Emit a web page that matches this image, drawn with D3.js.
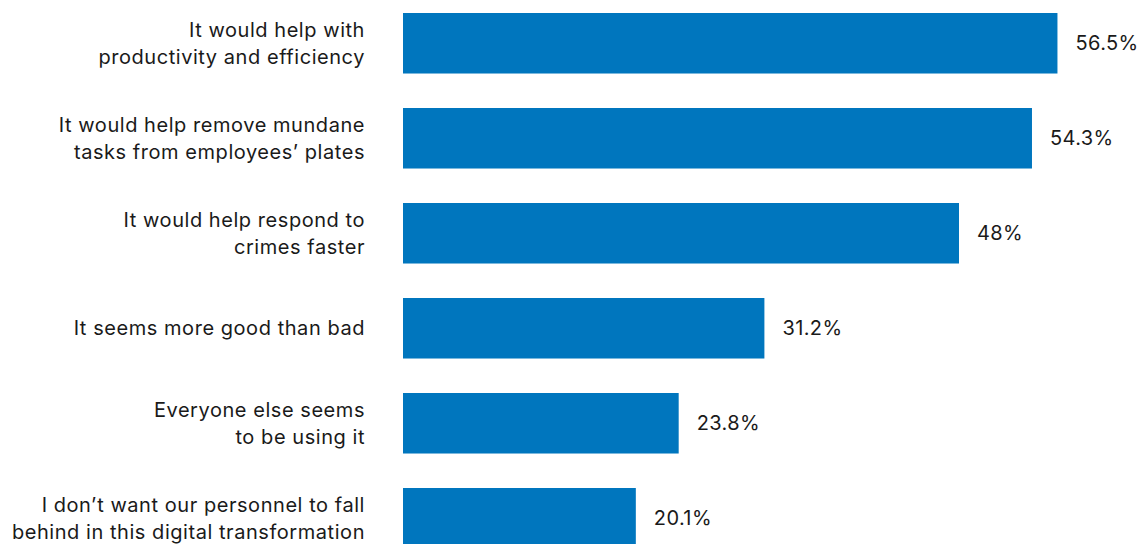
<!DOCTYPE html>
<html>
<head>
<meta charset="utf-8">
<script src="https://cdn.jsdelivr.net/npm/d3@7"></script>
<style>
  html, body { margin: 0; padding: 0; background: #fff; }
  svg { display: block; }
  text { font-family: Inter, "Noto Sans", sans-serif; fill: #1a1a1a; }
</style>
</head>
<body>
<svg id="chart" width="1146" height="544"></svg>
<script>
const categories = [
  ["It would help with", "productivity and efficiency"],
  ["It would help remove mundane", "tasks from employees\u2019 plates"],
  ["It would help respond to", "crimes faster"],
  ["It seems more good than bad"],
  ["Everyone else seems", "to be using it"],
  ["I don\u2019t want our personnel to fall", "behind in this digital transformation"]
];
const values = [56.5, 54.3, 48, 31.2, 23.8, 20.1];
const valueLabels = ["56.5%", "54.3%", "48%", "31.2%", "23.8%", "20.1%"];

const W = 1146, H = 544;
const svg = d3.select("#chart");
const barLeft = 403;
const x = d3.scaleLinear().domain([0, 60]).range([barLeft, barLeft + 695]);
const idx = d3.range(values.length);
const y = d3.scaleBand().domain(idx).range([-4.24, -4.24 + 6 * 95])
  .paddingInner(0.363).paddingOuter(0.1815);

const g = svg.append("g");

g.selectAll("rect.bar").data(idx).join("rect")
  .attr("class", "bar")
  .attr("x", x(0))
  .attr("y", i => y(i))
  .attr("width", i => x(values[i]) - x(0))
  .attr("height", y.bandwidth())
  .attr("fill", "#0076BE");

g.selectAll("text.val").data(idx).join("text")
  .attr("class", "val")
  .attr("x", i => x(values[i]) + 18)
  .attr("y", i => y(i) + y.bandwidth() / 2)
  .attr("dy", "0.36em")
  .style("font-size", "20px")
  .style("letter-spacing", "0.4px")
  .text(i => valueLabels[i]);

const lineH = 27;
const labels = g.selectAll("text.cat").data(idx).join("text")
  .attr("class", "cat")
  .attr("text-anchor", "end")
  .style("font-size", "20px")
  .style("letter-spacing", "0.55px");
labels.each(function(i) {
  const lines = categories[i];
  const cy = y(i) + y.bandwidth() / 2;
  const t = d3.select(this);
  lines.forEach((ln, k) => {
    t.append("tspan")
      .attr("x", 365)
      .attr("y", cy + (k - (lines.length - 1) / 2) * lineH)
      .attr("dy", "0.36em")
      .text(ln);
  });
});
</script>
</body>
</html>
